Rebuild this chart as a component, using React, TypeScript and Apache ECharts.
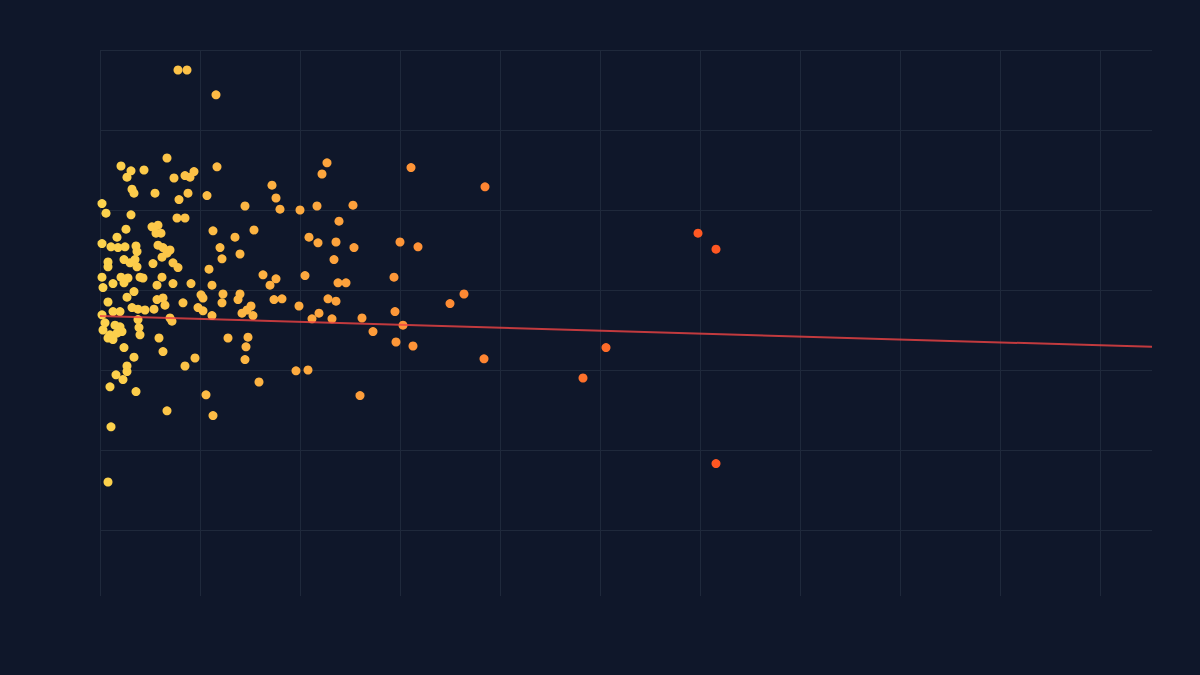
import React, { useEffect, useRef } from "react";
import * as echarts from "echarts";

// scatter samples, [x, y]
const samples: [number, number][] = [
  [0.78, 5.75], [0.87, 5.75], [1.16, 5.44], [0.08, 0.6], [0.11, 1.29],
  [0.67, 4.65], [0.21, 4.55], [0.31, 4.49], [0.27, 4.41], [0.44, 4.5],
  [0.74, 4.4], [0.85, 4.43], [0.9, 4.41], [0.94, 4.48], [1.17, 4.54],
  [0.32, 4.26], [0.34, 4.21], [0.55, 4.21], [0.88, 4.21], [0.79, 4.13],
  [1.07, 4.18], [0.02, 4.08], [0.06, 3.96], [0.31, 3.94], [1.45, 4.05],
  [0.77, 3.9], [0.85, 3.9], [0.26, 3.76], [0.52, 3.79], [0.58, 3.81],
  [0.56, 3.71], [0.61, 3.71], [0.17, 3.66], [1.13, 3.74], [1.35, 3.66],
  [1.54, 3.75], [0.02, 3.58], [0.11, 3.54], [0.18, 3.53], [0.25, 3.54],
  [0.36, 3.55], [0.37, 3.48], [0.08, 3.35], [0.08, 3.29], [0.24, 3.38],
  [0.3, 3.34], [0.35, 3.38], [0.37, 3.29], [0.58, 3.56], [0.63, 3.53],
  [0.67, 3.46], [0.7, 3.5], [0.62, 3.41], [0.53, 3.33], [0.73, 3.34],
  [0.78, 3.28], [1.2, 3.53], [1.22, 3.39], [1.4, 3.45], [1.09, 3.26],
  [1.63, 3.19], [0.02, 3.16], [0.03, 3.03], [0.13, 3.08], [0.21, 3.16],
  [0.28, 3.15], [0.24, 3.09], [0.4, 3.16], [0.43, 3.15], [0.57, 3.06],
  [0.62, 3.16], [0.73, 3.08], [0.91, 3.08], [1.12, 3.06], [1.01, 2.94],
  [1.03, 2.9], [1.23, 2.95], [1.22, 2.84], [1.4, 2.95], [1.38, 2.88],
  [1.51, 2.8], [1.47, 2.75], [1.42, 2.71], [1.53, 2.68], [0.08, 2.85],
  [0.27, 2.91], [0.34, 2.98], [0.32, 2.78], [0.38, 2.76], [0.45, 2.75],
  [0.57, 2.88], [0.63, 2.9], [0.65, 2.81], [0.83, 2.84], [0.54, 2.76],
  [0.98, 2.78], [1.03, 2.74], [1.12, 2.68], [0.7, 2.65], [0.72, 2.61],
  [0.02, 2.69], [0.13, 2.73], [0.2, 2.73], [0.38, 2.63], [0.05, 2.59],
  [0.15, 2.56], [0.2, 2.54], [0.03, 2.5], [0.1, 2.44], [0.17, 2.46],
  [0.22, 2.48], [0.08, 2.4], [0.13, 2.38], [0.39, 2.53], [0.4, 2.44],
  [0.59, 2.4], [0.24, 2.28], [0.34, 2.16], [0.63, 2.23], [1.28, 2.4],
  [1.48, 2.41], [1.46, 2.29], [1.45, 2.13], [0.95, 2.15], [0.85, 2.05],
  [0.27, 2.05], [0.27, 1.98], [0.23, 1.88], [0.16, 1.94], [0.1, 1.79],
  [0.36, 1.73], [1.59, 1.85], [1.06, 1.69], [0.67, 1.49], [1.13, 1.43],
  [2.27, 4.59], [2.22, 4.45], [3.11, 4.53], [3.85, 4.29], [1.72, 4.31],
  [1.76, 4.15], [1.8, 4.01], [2.0, 4.0], [2.17, 4.05], [2.53, 4.06],
  [2.39, 3.86], [2.09, 3.66], [2.18, 3.59], [2.36, 3.6], [2.54, 3.53],
  [3.0, 3.6], [3.18, 3.54], [2.34, 3.38], [1.76, 3.14], [2.05, 3.18],
  [2.94, 3.16], [1.7, 3.06], [2.38, 3.09], [2.46, 3.09], [1.74, 2.88],
  [1.82, 2.89], [1.99, 2.8], [2.28, 2.89], [2.36, 2.86], [2.12, 2.64],
  [2.19, 2.71], [2.32, 2.64], [2.62, 2.65], [2.95, 2.73], [3.03, 2.56],
  [2.73, 2.48], [2.96, 2.35], [3.13, 2.3], [3.5, 2.83], [3.64, 2.95],
  [3.84, 2.14], [1.96, 1.99], [2.08, 2.0], [2.6, 1.68], [4.83, 1.9],
  [5.06, 2.28], [5.98, 3.71], [6.16, 3.51], [6.16, 0.83],
];

// fitted trend line end points
const trendLine: [number, number][] = [
  [0, 2.675],
  [10.52, 2.29],
];

const xRange = [0, 10.52];
const yRange = [-0.825, 6];

const App = () => {
  const chartRef = useRef<HTMLDivElement>(null);

  useEffect(() => {
    document.body.style.margin = "0";
    if (!chartRef.current) return;
    const chart = echarts.init(chartRef.current, null, { renderer: "svg" });
    chart.setOption({
      animation: false,
      backgroundColor: "#0f172a",
      grid: { left: 100, right: 48, top: 50, bottom: 79 },
      xAxis: {
        type: "value",
        min: xRange[0],
        max: xRange[1],
        splitNumber: 10,
        axisLine: { show: false },
        axisTick: { show: false },
        axisLabel: { show: false },
        splitLine: {
          show: true,
          showMaxLine: false,
          lineStyle: { color: "#1f293b", width: 1 },
        },
      },
      yAxis: {
        type: "value",
        min: yRange[0],
        max: yRange[1],
        splitNumber: 7,
        axisLine: { show: false },
        axisTick: { show: false },
        axisLabel: { show: false },
        splitLine: {
          show: true,
          showMinLine: false,
          lineStyle: { color: "#1f293b", width: 1 },
        },
      },
      visualMap: {
        show: false,
        type: "continuous",
        seriesIndex: 0,
        dimension: 0,
        min: 0,
        max: 6.1,
        inRange: { color: ["#fcd34d", "#ff5722"] },
      },
      series: [
        {
          type: "scatter",
          data: samples,
          symbolSize: 9,
          itemStyle: { opacity: 1 },
        },
        {
          type: "line",
          data: trendLine,
          showSymbol: false,
          z: 3,
          lineStyle: { color: "#ef4444", width: 2, opacity: 0.8 },
        },
      ],
    });
    return () => {
      chart.dispose();
    };
  }, []);

  return (
    <div
      ref={chartRef}
      style={{ position: "absolute", left: 0, top: 0, width: "1200px", height: "675px" }}
    />
  );
};

export default App;
